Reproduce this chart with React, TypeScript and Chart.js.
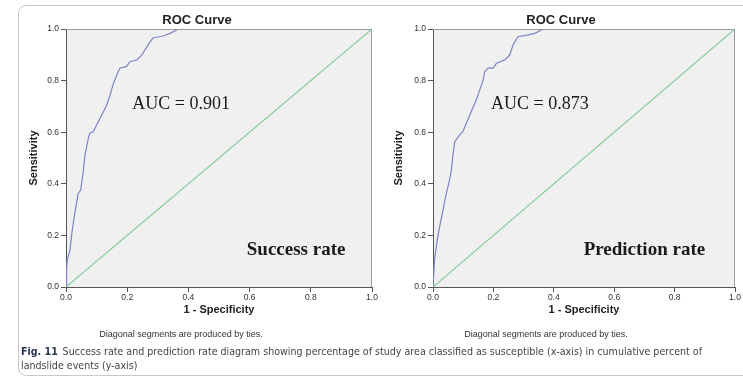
import React, { useEffect, useRef } from "react";
import { Chart, registerables } from "chart.js";

Chart.register(...registerables);

// ---- data ----
const tickValues = [0, 0.2, 0.4, 0.6, 0.8, 1.0];
const tickLabels = ["0.0", "0.2", "0.4", "0.6", "0.8", "1.0"];

const successFpr = [0, 0.002, 0.004, 0.013, 0.019, 0.022, 0.029, 0.04, 0.048, 0.057, 0.062, 0.073, 0.078, 0.089, 0.1, 0.117, 0.133, 0.144, 0.155, 0.166, 0.176, 0.198, 0.209, 0.231, 0.247, 0.264, 0.275, 0.285, 0.318, 0.34, 0.362, 0.37, 1.0];
const successTpr = [0, 0.07, 0.105, 0.143, 0.208, 0.234, 0.287, 0.363, 0.376, 0.453, 0.512, 0.576, 0.596, 0.602, 0.628, 0.667, 0.705, 0.744, 0.789, 0.822, 0.848, 0.855, 0.873, 0.88, 0.899, 0.93, 0.951, 0.966, 0.973, 0.983, 0.996, 1.0, 1.0];

const predictionFpr = [0, 0.005, 0.014, 0.022, 0.033, 0.044, 0.055, 0.061, 0.066, 0.072, 0.088, 0.099, 0.11, 0.127, 0.143, 0.155, 0.166, 0.171, 0.182, 0.199, 0.21, 0.237, 0.254, 0.265, 0.281, 0.315, 0.337, 0.359, 0.37, 1.0];
const predictionTpr = [0, 0.105, 0.182, 0.234, 0.298, 0.363, 0.415, 0.453, 0.512, 0.563, 0.589, 0.602, 0.634, 0.68, 0.725, 0.764, 0.802, 0.834, 0.848, 0.848, 0.867, 0.88, 0.899, 0.938, 0.97, 0.977, 0.983, 0.996, 1.0, 1.0];

const diagonalFpr = [0, 1];
const diagonalTpr = [0, 1];

const chartTitle = "ROC Curve";
const xTitle = "1 - Specificity";
const yTitle = "Sensitivity";
const noteText = "Diagonal segments are produced by ties.";
const successAuc = "AUC = 0.901";
const predictionAuc = "AUC = 0.873";
const successLabel = "Success rate";
const predictionLabel = "Prediction rate";

const SANS = "'Liberation Sans', Arial, sans-serif";
const SERIF = "'Liberation Serif', 'Times New Roman', serif";

const decorPlugin = {
  id: "rocDecor",
  beforeDraw(chart: any) {
    const { ctx, chartArea: a } = chart;
    ctx.save();
    ctx.fillStyle = "#f0f0f0";
    ctx.fillRect(a.left, a.top, a.width, a.height);
    ctx.restore();
  },
  afterDatasetsDraw(chart: any, _args: any, opts: any) {
    const { ctx, chartArea: a, scales } = chart;
    ctx.save();
    // frame (top & right)
    ctx.strokeStyle = "#9a9a9a";
    ctx.lineWidth = 1;
    ctx.beginPath();
    ctx.moveTo(a.left, a.top + 0.5);
    ctx.lineTo(a.right - 0.5, a.top + 0.5);
    ctx.lineTo(a.right - 0.5, a.bottom);
    ctx.stroke();
    // annotations
    ctx.fillStyle = "#1a1a1a";
    ctx.textAlign = "center";
    ctx.textBaseline = "middle";
    ctx.font = `18px ${SERIF}`;
    ctx.fillText(opts.auc, scales.x.getPixelForValue(opts.aucPos[0]), scales.y.getPixelForValue(opts.aucPos[1]));
    ctx.font = `bold 19px ${SERIF}`;
    ctx.fillText(opts.label, scales.x.getPixelForValue(opts.labelPos[0]), scales.y.getPixelForValue(opts.labelPos[1]));
    // note under the axis
    ctx.fillStyle = "#333";
    ctx.font = `9px ${SANS}`;
    ctx.fillText(noteText, (a.left + a.right) / 2 - 38, a.bottom + 48);
    ctx.restore();
  },
};

function makeConfig(fpr: number[], tpr: number[], auc: string, label: string, aucPos: number[], labelPos: number[], padLeft: number, padRight: number, yWidth: number): any {
  return {
    type: "scatter",
    data: {
      datasets: [
        {
          data: diagonalFpr.map((x, i) => ({ x, y: diagonalTpr[i] })),
          showLine: true,
          borderColor: "#84cc9c",
          borderWidth: 1.2,
          pointRadius: 0,
        },
        {
          data: fpr.map((x, i) => ({ x, y: tpr[i] })),
          showLine: true,
          borderColor: "#7d84c4",
          borderWidth: 1.2,
          pointRadius: 0,
        },
      ],
    },
    options: {
      responsive: false,
      animation: false,
      events: [],
      layout: { padding: { left: padLeft, right: padRight, top: 4, bottom: 61 } },
      plugins: {
        legend: { display: false },
        tooltip: { enabled: false },
        title: {
          display: true,
          text: chartTitle,
          color: "#222",
          font: { family: SANS, size: 13, weight: "bold" },
          padding: { top: 8.6, bottom: 0.8 },
        },
        rocDecor: { auc, label, aucPos, labelPos },
      },
      scales: {
        x: {
          type: "linear",
          min: 0,
          max: 1,
          afterFit: (s: any) => { s.height = 30; },
          afterBuildTicks: (s: any) => { s.ticks = tickValues.map((v) => ({ value: v })); },
          ticks: {
            callback: (_v: any, i: number) => tickLabels[i],
            color: "#333",
            font: { family: SANS, size: 8.5 },
            padding: 1,
            maxRotation: 0,
            autoSkip: false,
          },
          grid: { drawOnChartArea: false, drawTicks: true, tickLength: 5, color: "#555" },
          border: { display: true, color: "#555", width: 1 },
          title: {
            display: true,
            text: xTitle,
            color: "#222",
            font: { family: SANS, size: 11, weight: "bold" },
            padding: { top: 0, bottom: 0 },
          },
        },
        y: {
          type: "linear",
          min: 0,
          max: 1,
          afterFit: (s: any) => { s.width = yWidth; },
          afterBuildTicks: (s: any) => { s.ticks = tickValues.map((v) => ({ value: v })); },
          ticks: {
            callback: (_v: any, i: number) => tickLabels[i],
            color: "#333",
            font: { family: SANS, size: 8.5 },
            padding: 2,
            autoSkip: false,
          },
          grid: { drawOnChartArea: false, drawTicks: true, tickLength: 5, color: "#555" },
          border: { display: true, color: "#555", width: 1 },
          title: {
            display: true,
            text: yTitle,
            color: "#222",
            font: { family: SANS, size: 11, weight: "bold" },
            padding: { top: 5.4, bottom: 0 },
          },
        },
      },
    },
    plugins: [decorPlugin],
  };
}

function RocCanvas(props: { config: () => any }) {
  const ref = useRef<HTMLCanvasElement | null>(null);
  useEffect(() => {
    if (!ref.current) return;
    const chart = new Chart(ref.current, props.config());
    return () => chart.destroy();
  }, []);
  return (
    <canvas
      ref={ref}
      width={743}
      height={378}
      style={{ position: "absolute", left: 0, top: 0, width: 743, height: 378 }}
    />
  );
}

export default function App() {
  return (
    <div style={{ position: "fixed", left: 0, top: 0, width: 743, height: 378, background: "#fff", overflow: "hidden" }}>
      <div
        style={{
          position: "absolute",
          left: 18,
          top: 5,
          width: 770,
          height: 369,
          border: "1px solid #c8c8c8",
          borderRadius: 8,
        }}
      />
      <RocCanvas config={() => makeConfig(successFpr, successTpr, successAuc, successLabel, [0.376, 0.709], [0.752, 0.143], 22, 371, 44)} />
      <RocCanvas config={() => makeConfig(predictionFpr, predictionTpr, predictionAuc, predictionLabel, [0.354, 0.709], [0.70, 0.143], 387, 8, 46)} />
      <div
        style={{
          position: "absolute",
          left: 21,
          top: 344,
          width: 690,
          fontFamily: "'Liberation Sans Narrow', 'DejaVu Sans Condensed', sans-serif",
          fontSize: 10.6,
          lineHeight: "14px",
          color: "#444",
        }}
      >
        <span style={{ fontWeight: "bold", color: "#2a3550" }}>Fig. 11</span>
        {"\u2002Success rate and prediction rate diagram showing percentage of study area classified as susceptible (x-axis) in cumulative percent of landslide events (y-axis)"}
      </div>
    </div>
  );
}
